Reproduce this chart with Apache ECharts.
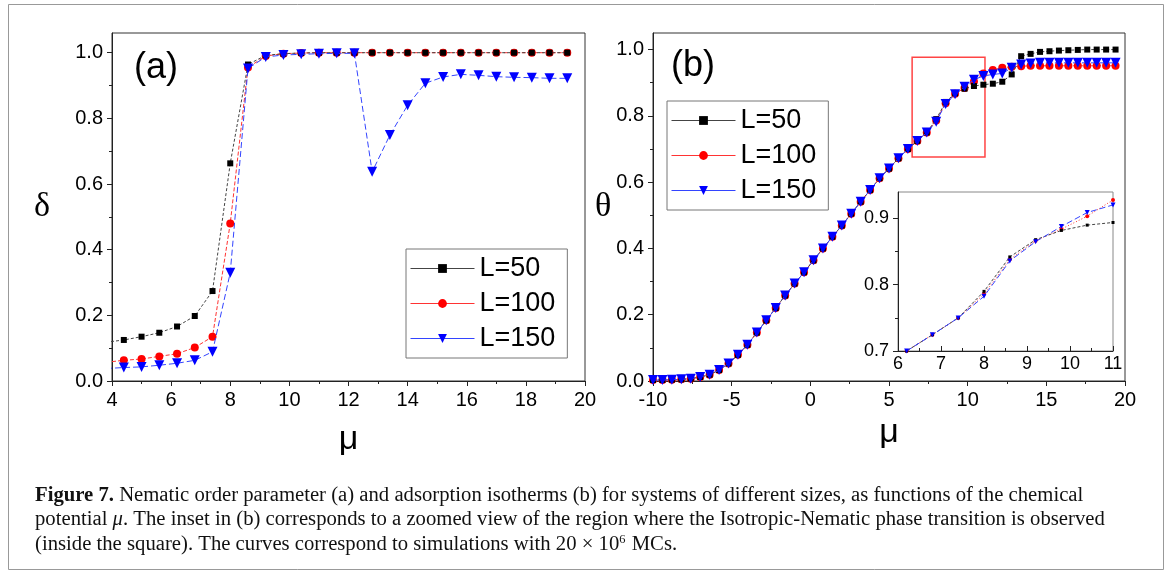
<!DOCTYPE html>
<html>
<head>
<meta charset="utf-8">
<script src="https://cdn.jsdelivr.net/npm/echarts@6/dist/echarts.min.js"></script>
<style>
  html, body { margin: 0; padding: 0; background: #fff; }
  #chart { width: 1171px; height: 575px; }
</style>
</head>
<body>
<div id="chart"></div>
<script>
// panel (a): nematic order parameter delta vs mu (first point lies just left of the axis)
const muA = [3.8, 4.4, 5.0, 5.6, 6.2, 6.8, 7.4, 8.0, 8.6, 9.2, 9.8, 10.4, 11.0, 11.6, 12.2, 12.8,
             13.4, 14.0, 14.6, 15.2, 15.8, 16.4, 17.0, 17.6, 18.2, 18.8, 19.4];
const deltaL50 = [0.118, 0.125, 0.135, 0.147, 0.166, 0.198, 0.274, 0.663, 0.964, 0.992, 0.997, 0.999, 1.0, 1.0,
                  1.0, 1.0, 1.0, 1.0, 1.0, 1.0, 1.0, 1.0, 1.0, 1.0, 1.0, 1.0, 1.0];
const deltaL100 = [0.057, 0.063, 0.067, 0.075, 0.083, 0.102, 0.135, 0.480, 0.955, 0.990, 0.997, 0.999, 1.0, 1.0,
                   1.0, 1.0, 1.0, 1.0, 1.0, 1.0, 1.0, 1.0, 1.0, 1.0, 1.0, 1.0, 1.0];
const deltaL150 = [0.038, 0.041, 0.043, 0.048, 0.054, 0.063, 0.089, 0.330, 0.952, 0.987, 0.993, 0.995, 0.997, 0.998,
                   0.998, 0.637, 0.749, 0.840, 0.907, 0.926, 0.934, 0.931, 0.927, 0.925, 0.924, 0.922, 0.922];

// panel (b): adsorption isotherms theta vs mu
const muB = [-10.0, -9.4, -8.8, -8.2, -7.6, -7.0, -6.4, -5.8, -5.2, -4.6, -4.0, -3.4, -2.8, -2.2, -1.6, -1.0,
             -0.4, 0.2, 0.8, 1.4, 2.0, 2.6, 3.2, 3.8, 4.4, 5.0, 5.6, 6.2, 6.8, 7.4, 8.0, 8.6, 9.2, 9.8, 10.4,
             11.0, 11.6, 12.2, 12.8, 13.4, 14.0, 14.6, 15.2, 15.8, 16.4, 17.0, 17.6, 18.2, 18.8, 19.4];
const thetaL50 = [0.003, 0.003, 0.004, 0.005, 0.007, 0.012, 0.019, 0.033, 0.053, 0.079, 0.109, 0.146, 0.183, 0.220,
                  0.258, 0.294, 0.328, 0.364, 0.400, 0.435, 0.469, 0.505, 0.541, 0.576, 0.612, 0.641, 0.672, 0.700,
                  0.7245, 0.750, 0.790, 0.842, 0.868, 0.882, 0.890, 0.894, 0.897, 0.903, 0.925, 0.980, 0.987,
                  0.993, 0.995, 0.997, 0.998, 0.999, 1.0, 1.0, 1.0, 1.0];
const thetaL100 = [0.003, 0.003, 0.004, 0.005, 0.007, 0.012, 0.019, 0.033, 0.053, 0.079, 0.109, 0.146, 0.183, 0.220,
                   0.258, 0.294, 0.328, 0.364, 0.400, 0.435, 0.469, 0.505, 0.541, 0.576, 0.612, 0.641, 0.672, 0.700,
                   0.7245, 0.750, 0.786, 0.838, 0.8665, 0.884, 0.9035, 0.928, 0.938, 0.945, 0.948, 0.950, 0.951,
                   0.951, 0.951, 0.951, 0.951, 0.951, 0.951, 0.951, 0.951, 0.951];
const thetaL150 = [0.003, 0.003, 0.004, 0.005, 0.007, 0.012, 0.019, 0.033, 0.053, 0.079, 0.109, 0.146, 0.183, 0.220,
                   0.258, 0.294, 0.328, 0.364, 0.400, 0.435, 0.469, 0.505, 0.541, 0.576, 0.612, 0.641, 0.672, 0.700,
                   0.7245, 0.750, 0.7825, 0.836, 0.865, 0.888, 0.909, 0.9205, 0.925, 0.928, 0.945, 0.955, 0.958,
                   0.960, 0.960, 0.960, 0.960, 0.960, 0.960, 0.960, 0.960, 0.960];

// red square in (b) marking the zoomed region
const boxMu = [6.47, 11.1];
const boxTheta = [0.676, 0.977];

const mainYTicks = [0, 0.2, 0.4, 0.6, 0.8, 1.0];
const mainYMinor = [0.1, 0.3, 0.5, 0.7, 0.9];
const insetYTicks = [0.7, 0.8, 0.9];
const insetYMinor = [0.75, 0.85];

const sizes = ['L=50', 'L=100', 'L=150'];

function pairs(xs, ys) {
    return xs.map(function (x, i) { return [x, ys[i]]; });
}

const SANS = 'Liberation Sans';
const SERIF = 'Liberation Serif';

let myChart = echarts.init(document.getElementById('chart'), null, { renderer: 'canvas' });

function majorY(grid, min, max, ticks, name, gap) {
    return {
        type: 'value', gridIndex: grid, min: min, max: max, position: 'left',
        name: name, nameLocation: 'middle', nameGap: gap, nameRotate: 0,
        nameTextStyle: { fontFamily: SERIF, fontSize: 34, color: '#000', padding: [16, 0, 0, 0] },
        axisLine: { show: true, onZero: false, lineStyle: { color: '#222', width: 1 } },
        axisTick: { show: true, inside: false, length: 5, customValues: ticks, lineStyle: { color: '#222' } },
        axisLabel: {
            customValues: ticks, margin: 9, fontFamily: SANS, fontSize: grid === 2 ? 18 : 20, color: '#000',
            formatter: function (v) { return v.toFixed(1); }
        },
        splitLine: { show: false }
    };
}

function minorY(grid, min, max, ticks) {
    return {
        type: 'value', gridIndex: grid, min: min, max: max, position: 'left',
        axisLine: { show: false, onZero: false },
        axisTick: { show: true, inside: false, length: 3, customValues: ticks, lineStyle: { color: '#222' } },
        axisLabel: { show: false },
        splitLine: { show: false }
    };
}

function xAxisOf(grid, min, max, interval, name, gap, inside) {
    return {
        type: 'value', gridIndex: grid, min: min, max: max, interval: interval,
        name: name, nameLocation: 'middle', nameGap: gap,
        nameTextStyle: { fontFamily: SANS, fontSize: 34, color: '#000' },
        axisLine: { show: true, onZero: false, lineStyle: { color: '#222', width: 1 } },
        axisTick: { show: true, inside: inside, length: 5, lineStyle: { color: '#222' } },
        minorTick: { show: true, splitNumber: 2, length: 3, lineStyle: { color: '#222' } },
        axisLabel: { margin: inside ? 4 : 9, fontFamily: SANS, fontSize: grid === 2 ? 18 : 20, color: '#000' },
        splitLine: { show: false }
    };
}

function styleFor(size, inset) {
    if (size === 'L=50') {
        return {
            symbol: 'rect', symbolSize: inset ? 3 : 6,
            itemStyle: { color: '#000' },
            lineStyle: { color: '#444', width: 1, type: [3, 2] }
        };
    }
    if (size === 'L=100') {
        return {
            symbol: 'circle', symbolSize: inset ? 4 : 8,
            itemStyle: { color: '#ff0000' },
            lineStyle: { color: '#ff3333', width: 1, type: inset ? [1, 2] : [4, 2] }
        };
    }
    return {
        symbol: 'triangle', symbolRotate: 180, symbolSize: inset ? 5 : 10,
        itemStyle: { color: '#0000ff' },
        lineStyle: { color: '#3344ff', width: 1, type: [6, 3] }
    };
}

function lineSeries(size, xIdx, yIdx, data, inset, z) {
    return Object.assign({
        name: size, type: 'line', xAxisIndex: xIdx, yAxisIndex: yIdx,
        data: data, showSymbol: true, clip: true, z: z
    }, styleFor(size, inset));
}

// draw order: red, black, blue (blue on top)
let series = [
    lineSeries('L=100', 0, 0, pairs(muA, deltaL100), false, 2),
    lineSeries('L=50', 0, 0, pairs(muA, deltaL50), false, 3),
    lineSeries('L=150', 0, 0, pairs(muA, deltaL150), false, 4),
    lineSeries('L=100', 1, 2, pairs(muB, thetaL100), false, 2),
    lineSeries('L=50', 1, 2, pairs(muB, thetaL50), false, 3),
    lineSeries('L=150', 1, 2, pairs(muB, thetaL150), false, 4),
    lineSeries('L=100', 2, 4, pairs(muB, thetaL100), true, 6),
    lineSeries('L=50', 2, 4, pairs(muB, thetaL50), true, 6),
    lineSeries('L=150', 2, 4, pairs(muB, thetaL150), true, 6)
];

series[5].markArea = {
    silent: true,
    itemStyle: { color: 'rgba(0,0,0,0)', borderColor: '#ff4444', borderWidth: 1.5 },
    data: [[{ coord: [boxMu[0], boxTheta[0]] }, { coord: [boxMu[1], boxTheta[1]] }]]
};

function legendAt(left, top) {
    return {
        data: sizes, orient: 'vertical', left: left, top: top,
        itemWidth: 64, itemHeight: 11, itemGap: 8,
        padding: [6, 12, 6, 4],
        borderColor: '#777', borderWidth: 1, backgroundColor: '#fff',
        lineStyle: { type: 'solid', width: 1 },
        textStyle: { fontFamily: SANS, fontSize: 27, color: '#000', lineHeight: 27 },
        selectedMode: false
    };
}

const captionStyle = { fontFamily: SERIF, fontSize: 20, fill: '#111' };

let option = {
    animation: false,
    backgroundColor: '#fff',
    grid: [
        { left: 112, top: 33, width: 473, height: 348, show: true, borderColor: '#333', borderWidth: 1, backgroundColor: 'transparent' },
        { left: 653, top: 33, width: 472, height: 348, show: true, borderColor: '#333', borderWidth: 1, backgroundColor: 'transparent' },
        { left: 898, top: 192, width: 215, height: 159, show: true, borderColor: '#888', borderWidth: 1, backgroundColor: '#fff', z: 5 }
    ],
    xAxis: [
        xAxisOf(0, 4, 20, 2, 'μ', 42, false),
        xAxisOf(1, -10, 20, 5, 'μ', 35, false),
        Object.assign(xAxisOf(2, 6, 11, 1, '', 0, true), { z: 6 })
    ],
    yAxis: [
        majorY(0, 0, 1.06, mainYTicks, 'δ', 62),
        minorY(0, 0, 1.06, mainYMinor),
        majorY(1, 0, 1.05, mainYTicks, 'θ', 37),
        minorY(1, 0, 1.05, mainYMinor),
        Object.assign(majorY(2, 0.7, 0.94, insetYTicks, '', 0), { z: 6 }),
        Object.assign(minorY(2, 0.7, 0.94, insetYMinor), { z: 6 })
    ],
    legend: [legendAt(406, 249), legendAt(667, 101)],
    series: series,
    graphic: [
        { type: 'rect', shape: { x: 8.5, y: 4.5, width: 1155, height: 565 }, style: { fill: 'none', stroke: '#999', lineWidth: 1 }, z: 0 },
        { type: 'text', left: 134, top: 50, style: { text: '(a)', fontFamily: SANS, fontSize: 36, fill: '#000' } },
        { type: 'text', left: 671, top: 48, style: { text: '(b)', fontFamily: SANS, fontSize: 36, fill: '#000' } },
        {
            type: 'text', left: 35, top: 486, scaleX: 1.035,
            style: Object.assign({
                text: '{b|Figure 7.} Nematic order parameter (a) and adsorption isotherms (b) for systems of different sizes, as functions of the chemical',
                rich: { b: Object.assign({ fontWeight: 'bold' }, captionStyle) }
            }, captionStyle)
        },
        {
            type: 'text', left: 35, top: 510, scaleX: 1.035,
            style: Object.assign({
                text: 'potential {i|μ}. The inset in (b) corresponds to a zoomed view of the region where the Isotropic-Nematic phase transition is observed',
                rich: { i: Object.assign({ fontStyle: 'italic' }, captionStyle) }
            }, captionStyle)
        },
        {
            type: 'text', left: 35, top: 534, scaleX: 1.035,
            style: Object.assign({
                text: '(inside the square). The curves correspond to simulations with 20 \u00d7 10{s|6} MCs.',
                rich: { s: { fontFamily: SERIF, fontSize: 12, fill: '#111', padding: [0, 1, 9, 0] } }
            }, captionStyle)
        }
    ]
};

option && myChart.setOption(option);
</script>
</body>
</html>
